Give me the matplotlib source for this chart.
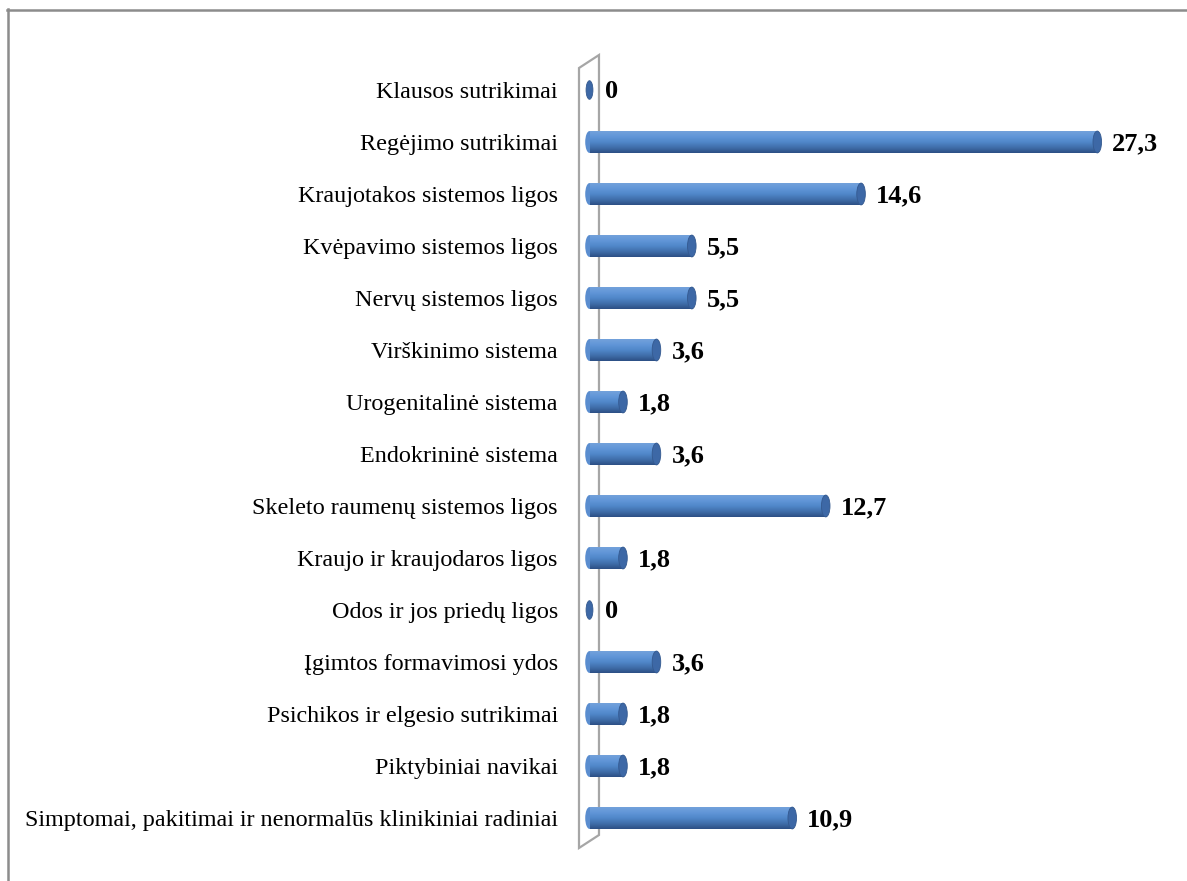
import matplotlib.pyplot as plt
from matplotlib.patches import Ellipse, Polygon
from matplotlib.lines import Line2D
from matplotlib.colors import LinearSegmentedColormap
import numpy as np

Categories = [
    "Klausos sutrikimai",
    "Regėjimo sutrikimai",
    "Kraujotakos sistemos ligos",
    "Kvėpavimo sistemos ligos",
    "Nervų sistemos ligos",
    "Virškinimo sistema",
    "Urogenitalinė sistema",
    "Endokrininė sistema",
    "Skeleto raumenų sistemos ligos",
    "Kraujo ir kraujodaros ligos",
    "Odos ir jos priedų ligos",
    "Įgimtos formavimosi ydos",
    "Psichikos ir elgesio sutrikimai",
    "Piktybiniai navikai",
    "Simptomai, pakitimai ir nenormalūs klinikiniai radiniai",
]
Values = [0, 27.3, 14.6, 5.5, 5.5, 3.6, 1.8, 3.6, 12.7, 1.8, 0, 3.6, 1.8, 1.8, 10.9]
ValueLabels = ["0", "27,3", "14,6", "5,5", "5,5", "3,6", "1,8", "3,6", "12,7", "1,8", "0", "3,6", "1,8", "1,8", "10,9"]

Serif = ["Liberation Serif", "DejaVu Serif"]
BarHeight = 0.42
CapWidth = 0.46

fig = plt.figure(figsize=(11.87, 8.81), dpi=100)
ax = fig.add_axes([578 / 1187, 37 / 881, 602 / 1187, 780 / 881])

Cylinder = LinearSegmentedColormap.from_list(
    "cyl", ["#73A1DB", "#6196D8", "#5087C9", "#406EAA", "#2C4F84"])

Positions = np.arange(len(Values))
Bars = ax.barh(Positions, Values, height=BarHeight, color="none", edgecolor="none", zorder=3)

# 3D wall behind the bars
xl, xr = -0.565, 0.51
Wall = Polygon([(xl, -0.423), (xr, -0.673), (xr, 14.327), (xl, 14.577)],
               closed=True, facecolor="white", edgecolor="#A6A6A6", lw=1.6,
               clip_on=False, zorder=1)
ax.add_patch(Wall)

Gradient = np.linspace(0, 1, 200).reshape(-1, 1)
for Bar, Value, Pos in zip(Bars, Values, Positions):
    if Value > 0:
        # rounded left end
        ax.add_patch(Ellipse((0, Pos), CapWidth, BarHeight, facecolor="#5A8DCF",
                             edgecolor="none", zorder=2.5))
        Img = ax.imshow(Gradient, extent=(0, Value, Pos + BarHeight / 2, Pos - BarHeight / 2),
                        aspect="auto", cmap=Cylinder, zorder=3, interpolation="bilinear")
        Img.set_clip_path(Bar)
        ax.add_patch(Ellipse((Value, Pos), CapWidth, BarHeight, facecolor="#3D68A6",
                             edgecolor="#34598F", lw=0.6, zorder=4))
    else:
        ax.add_patch(Ellipse((Value, Pos), CapWidth * 0.8, BarHeight * 0.85, facecolor="#3D68A6",
                             edgecolor="#34598F", lw=0.6, zorder=4))

for Value, Pos, Label in zip(Values, Positions, ValueLabels):
    ax.annotate(Label, (Value, Pos), xytext=(15, -2), textcoords="offset pixels",
                ha="left", va="center", fontsize=19, fontweight="bold",
                family=Serif, color="black")

ax.set_xlim(-11.5 / 18.6, (1180 - 589.5) / 18.6)
ax.set_ylim(14.5, -0.5)
ax.set_yticks(Positions, Categories, family=Serif, fontsize=17.4)
ax.set_xticks([])
ax.tick_params(axis="y", length=0, pad=14.5)
for Spine in ax.spines.values():
    Spine.set_visible(False)

# outer frame (top and left only)
fig.add_artist(Line2D([7 / 1187, 1], [1 - 9.5 / 881, 1 - 9.5 / 881], color="#8C8C8C", lw=1.8))
fig.add_artist(Line2D([7.5 / 1187, 7.5 / 1187], [0, 1 - 9 / 881], color="#8C8C8C", lw=1.8))

fig.savefig("out.png", dpi=100)
